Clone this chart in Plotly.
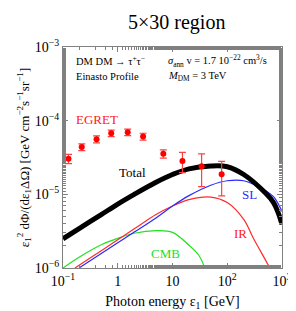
import plotly.graph_objects as go
import math

# EGRET data points
egret_e = [0.126, 0.22, 0.41, 0.76, 1.52, 2.9, 6.8, 15.2, 34, 79]
egret_flux = [3.05e-5, 4.38e-5, 5.61e-5, 6.76e-5, 6.97e-5, 6.1e-5, 3.56e-5, 2.84e-5, 2.41e-5, 1.88e-5]
egret_err = [0.44e-5, 0.45e-5, 0.6e-5, 0.7e-5, 0.7e-5, 0.65e-5, 0.46e-5, 0.87e-5, 1.14e-5, 0.93e-5]

# Total
total_e = [0.1, 0.2, 0.5, 1, 2, 5, 10, 20, 50, 100, 200, 500, 700, 850, 1000]
total_flux = [2.49e-6, 3.45e-6, 5.31e-6, 7.38e-6, 1.0e-5, 1.46e-5, 1.86e-5, 2.22e-5, 2.42e-5, 2.37e-5,
              1.86e-5, 1.04e-5, 7.73e-6, 5.66e-6, 3.91e-6]

# SL (starlight)
sl_e = [0.196, 0.5, 1, 2, 5, 10, 20, 50, 100, 200, 500, 700, 850, 1000]
sl_flux = [1.0e-6, 1.57e-6, 2.20e-6, 3.07e-6, 4.78e-6, 6.93e-6, 9.60e-6, 1.33e-5, 1.53e-5, 1.53e-5,
           1.12e-5, 9.30e-6, 7.48e-6, 5.85e-6]

# IR
ir_e = [0.165, 0.2, 0.5, 1, 2, 5, 10, 20, 50, 100, 200, 300, 500, 600]
ir_flux = [1.0e-6, 1.10e-6, 1.72e-6, 2.42e-6, 3.40e-6, 5.32e-6, 6.93e-6, 8.48e-6, 9.16e-6, 7.72e-6,
           4.56e-6, 2.53e-6, 1.28e-6, 1.0e-6]

# CMB
cmb_e = [0.1, 0.2, 0.5, 1, 2, 5, 10, 20, 30, 39]
cmb_flux = [1.0e-6, 1.41e-6, 2.07e-6, 2.53e-6, 2.96e-6, 3.21e-6, 3.05e-6, 2.04e-6, 1.50e-6, 1.0e-6]

x_tickvals = [0.1, 1, 10, 100, 1000]
x_ticktext = ["10<sup>−1</sup>", "1", "10", "10<sup>2</sup>", "10<sup>3</sup>"]
y_tickvals = [1e-6, 1e-5, 1e-4, 1e-3]
y_ticktext = ["10<sup>−6</sup>", "10<sup>−5</sup>", "10<sup>−4</sup>", "10<sup>−3</sup>"]

FONT = "Liberation Serif, Times New Roman, serif"

fig = go.Figure()
fig.add_trace(go.Scatter(x=cmb_e, y=cmb_flux, mode="lines", line=dict(color="#22e022", width=1.2, shape="spline", smoothing=1)))
fig.add_trace(go.Scatter(x=ir_e, y=ir_flux, mode="lines", line=dict(color="#ff2a2a", width=1.2, shape="spline", smoothing=1)))
fig.add_trace(go.Scatter(x=sl_e, y=sl_flux, mode="lines", line=dict(color="#2a2aff", width=1.2, shape="spline", smoothing=1)))
fig.add_trace(go.Scatter(x=total_e, y=total_flux, mode="lines", line=dict(color="black", width=5, shape="spline", smoothing=1)))
fig.add_trace(go.Scatter(x=egret_e, y=egret_flux, mode="markers",
                         marker=dict(color="#ff0000", size=6),
                         error_y=dict(type="data", array=egret_err, color="#ff4040", thickness=1.2, width=3.5)))

axis_common = dict(type="log", showgrid=False, zeroline=False, showline=True, linecolor="#808080", linewidth=1,
                   mirror="allticks", ticks="inside", ticklen=5, tickcolor="#808080",
                   tickfont=dict(family=FONT, size=14, color="black"),
                   minor=dict(ticks="inside", ticklen=3, tickcolor="#808080", showgrid=False))

fig.update_xaxes(**axis_common, range=[-1, 3], tickvals=x_tickvals, ticktext=x_ticktext,
                 title=dict(text="Photon energy ε<sub>1</sub> [GeV]", font=dict(family=FONT, size=14, color="black"), standoff=8))
fig.update_yaxes(**axis_common, range=[-6, -3], tickvals=y_tickvals, ticktext=y_ticktext,
                 title=dict(text="ε<sub>1</sub><sup>2</sup> dΦ/(dε<sub>1</sub>ΔΩ) [GeV cm<sup>−2</sup>s<sup>−1</sup>sr<sup>−1</sup>]",
                            font=dict(family=FONT, size=13, color="black"), standoff=2))

def lab(text, lx, ly, color, size=13):
    fig.add_annotation(x=lx, y=ly, xref="x", yref="y", text=text, showarrow=False,
                       font=dict(family=FONT, size=size, color=color))

lab("EGRET", math.log10(0.425), -3.982, "#ff2020")
lab("Total", math.log10(1.88), -4.709, "black")
lab("SL", 2.406, -5.005, "#2a2aff")
lab("IR", 2.249, -5.529, "#ff2020")
lab("CMB", 0.869, -5.798, "#22e022")

def note(text, px, py):
    fig.add_annotation(x=px, y=py, xref="paper", yref="paper", text=text, showarrow=False,
                       xanchor="left", yanchor="middle", font=dict(family=FONT, size=10.5, color="black"))

note("DM DM → τ<sup>+</sup>τ<sup>−</sup>", 0.052, 0.937)
note("Einasto Profile", 0.052, 0.865)
note("<i>σ</i><sub>ann</sub> v = 1.7 10<sup>−22</sup> cm<sup>3</sup>/s", 0.47, 0.937)
note("<i>M</i><sub>DM</sub> = 3 TeV", 0.47, 0.865)

fig.update_layout(
    width=296, height=311,
    margin=dict(l=55, r=12, t=39, b=49),
    paper_bgcolor="white", plot_bgcolor="white",
    showlegend=False,
    title=dict(text="5×30 region", x=0.57, xanchor="center", y=0.955, yanchor="middle",
               font=dict(family=FONT, size=20, color="black")),
)

fig.write_html("out.html")
